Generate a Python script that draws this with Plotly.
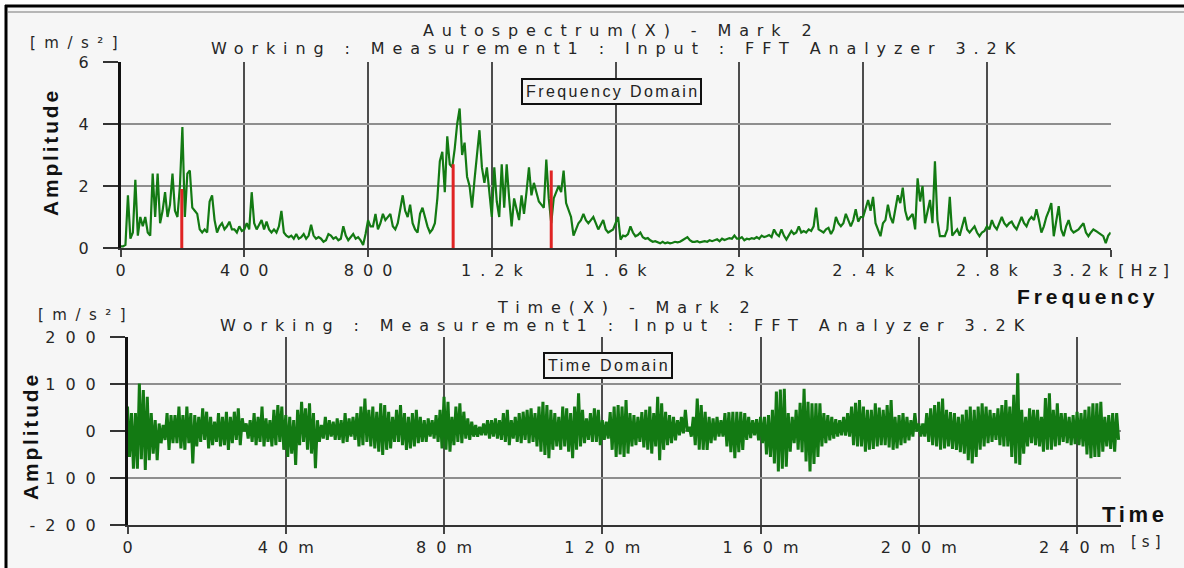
import plotly.graph_objects as go

W, H = 1184, 568

# ---------------- data ----------------
# Autospectrum: frequency grid (Hz) and amplitude [m/s^2]
freq_step = 8
spec_amp = [
    0.05, 0.05, 0.1, 1.7, 0.3, 0.5, 2.2, 0.4, 1.0, 0.7,
    1.0, 0.5, 0.4, 2.4, 1.0, 2.4, 0.8, 1.2, 1.8, 1.0,
    1.4, 2.4, 1.2, 1.0, 2.0, 3.9, 1.0, 2.4, 2.5, 1.3,
    1.2, 1.1, 0.6, 0.5, 0.6, 0.5, 1.5, 1.7, 0.9, 0.5,
    0.7, 0.8, 0.6, 0.7, 0.85, 0.6, 0.6, 0.5, 0.7, 0.55,
    0.6, 0.8, 0.6, 1.8, 0.8, 0.6, 0.75, 0.9, 0.6, 0.85,
    0.6, 0.5, 0.6, 0.5, 0.7, 1.2, 0.5, 0.4, 0.35, 0.4,
    0.3, 0.45, 0.3, 0.35, 0.45, 0.3, 0.4, 0.75, 0.4, 0.3,
    0.35, 0.3, 0.2, 0.25, 0.45, 0.4, 0.3, 0.35, 0.25, 0.3,
    0.7, 0.4, 0.25, 0.35, 0.45, 0.3, 0.35, 0.25, 0.1, 0.45,
    0.9, 0.7, 0.7, 1.1, 0.6, 0.8, 1.1, 0.9, 1.0, 1.1,
    0.7, 0.6, 0.8, 1.2, 1.7, 1.2, 1.0, 1.4, 0.8, 0.6,
    0.5, 1.1, 1.3, 1.0, 0.7, 0.5, 0.6, 0.8, 1.6, 2.8,
    3.1, 1.8, 3.6, 2.7, 2.6, 3.2, 4.0, 4.5, 3.0, 3.4,
    2.3, 2.0, 1.3, 2.2, 3.0, 3.8, 2.6, 2.1, 2.6, 1.8,
    1.0, 2.6, 1.5, 1.0, 2.7, 1.3, 2.7, 1.6, 0.7, 1.6,
    1.2, 0.9, 1.7, 1.1, 1.8, 2.6, 1.7, 2.1, 1.8, 1.5,
    1.4, 1.3, 2.85, 1.6, 0.8, 1.6, 1.8, 2.0, 1.8, 2.5,
    1.45, 1.2, 1.0, 0.4, 0.6, 0.8, 0.9, 1.1, 0.9, 0.8,
    0.9, 1.0, 0.8, 0.6, 0.75, 0.9, 0.6, 0.5, 0.55, 0.6,
    0.8, 1.0, 0.27, 0.4, 0.38, 0.45, 0.7, 0.5, 0.38, 0.42,
    0.5, 0.35, 0.3, 0.32, 0.25, 0.2, 0.22, 0.18, 0.15, 0.2,
    0.15, 0.18, 0.15, 0.17, 0.2, 0.18, 0.2, 0.25, 0.3, 0.35,
    0.25, 0.2, 0.2, 0.22, 0.18, 0.2, 0.22, 0.2, 0.25, 0.22,
    0.25, 0.28, 0.22, 0.3, 0.26, 0.3, 0.32, 0.3, 0.4, 0.3,
    0.3, 0.35, 0.25, 0.3, 0.28, 0.32, 0.3, 0.35, 0.3, 0.4,
    0.35, 0.38, 0.42, 0.35, 0.6, 0.45, 0.38, 0.6, 0.4, 0.27,
    0.4, 0.55, 0.45, 0.5, 0.7, 0.5, 0.55, 0.5, 0.6, 0.55,
    0.7, 1.3, 0.6, 0.55, 0.5, 0.6, 0.65, 0.45, 0.6, 1.0,
    0.8, 0.7, 0.8, 1.1, 0.9, 0.7, 0.9, 1.25, 0.85, 1.0,
    1.0, 1.3, 1.55, 1.2, 1.65, 0.8, 0.6, 0.38, 0.8, 0.9,
    1.4, 1.0, 0.8, 1.2, 1.7, 1.45, 1.95, 1.2, 0.9, 1.0,
    1.1, 0.6, 2.25, 1.5, 2.0, 0.8, 1.2, 1.55, 0.8, 2.8,
    0.9, 0.38, 0.38, 0.38, 0.6, 1.65, 0.4, 0.5, 0.6, 0.4,
    0.7, 1.0, 0.6, 0.5, 0.6, 0.7, 0.5, 0.38, 0.5, 0.55,
    0.7, 0.6, 0.9, 0.7, 0.6, 0.8, 1.0, 0.8, 0.7, 0.8,
    0.85, 0.7, 0.6, 0.8, 1.0, 0.8, 0.7, 0.9, 1.0, 0.9,
    1.25, 0.9, 0.5, 0.7, 1.0, 1.2, 1.45, 0.38, 0.9, 1.35,
    0.6, 0.38, 0.7, 0.9, 0.6, 0.5, 0.55, 0.6, 0.7, 0.8,
    0.5, 0.38, 0.5, 0.6, 0.55, 0.5, 0.45, 0.38, 0.16, 0.4,
    0.5,
]
spec_freq = [i * freq_step for i in range(len(spec_amp))]

# Mark cursors (red lines) on the spectrum
mark_freq = [198, 1075, 1392]
mark_amp = [1.9, 2.7, 2.5]

# Time signal: per-millisecond max / min of the displayed trace [m/s^2]
time_hi = [
    52, 38, 38, 101, 87, 73, 38, 23, 16, 13,
    38, 34, 34, 52, 34, 52, 38, 34, 30, 48,
    41, 30, 20, 38, 30, 41, 30, 41, 48, 27,
    16, 23, 38, 30, 52, 27, 23, 45, 55, 52,
    34, 30, 23, 45, 62, 48, 59, 38, 23, 13,
    30, 23, 20, 27, 23, 38, 27, 30, 38, 52,
    69, 45, 52, 41, 59, 55, 41, 30, 45, 55,
    38, 30, 38, 45, 30, 23, 27, 23, 34, 45,
    73, 62, 30, 52, 59, 41, 27, 20, 13, 9,
    16, 23, 23, 27, 23, 38, 45, 23, 30, 38,
    41, 45, 48, 38, 52, 62, 55, 45, 38, 30,
    52, 48, 38, 52, 80, 45, 27, 38, 48, 45,
    23, 20, 40, 52, 55, 52, 66, 38, 34, 30,
    40, 45, 52, 38, 73, 59, 41, 34, 30, 23,
    30, 45, 9, 30, 69, 55, 41, 30, 27, 30,
    23, 38, 40, 41, 41, 41, 38, 30, 23, 25,
    30, 30, 34, 45, 84, 88, 90, 38, 30, 45,
    60, 90, 62, 59, 59, 59, 38, 34, 30, 25,
    23, 30, 38, 52, 60, 66, 52, 45, 45, 59,
    50, 45, 55, 66, 30, 34, 38, 30, 23, 38,
    16, 16, 38, 48, 55, 62, 69, 45, 40, 38,
    30, 35, 45, 52, 45, 52, 59, 52, 45, 38,
    48, 55, 66, 52, 77, 123, 45, 30, 48, 45,
    45, 30, 70, 80, 45, 59, 38, 38, 30, 34,
    41, 38, 45, 52, 59, 59, 62, 30, 34, 38, 38,
]
time_lo = [
    -55, -80, -80, -60, -83, -62, -48, -62, -26, -19,
    -40, -26, -26, -37, -40, -26, -69, -33, -23, -19,
    -37, -30, -23, -33, -30, -40, -26, -19, -30, -1,
    -16, -23, -30, -23, -33, -23, -33, -30, -23, -40,
    -55, -48, -72, -30, -23, -40, -48, -79, -23, -16,
    -19, -12, -19, -19, -26, -23, -12, -19, -33, -30,
    -23, -33, -37, -44, -51, -40, -37, -23, -23, -30,
    -40, -37, -33, -26, -23, -23, -12, -16, -23, -37,
    -40, -44, -30, -23, -26, -16, -19, -12, -12, -9,
    -9, -16, -12, -16, -19, -23, -30, -16, -23, -26,
    -19, -26, -23, -33, -44, -51, -58, -40, -33, -40,
    -33, -44, -58, -40, -33, -26, -19, -23, -23, -30,
    -19, -16, -40, -55, -50, -55, -48, -33, -30, -23,
    -35, -40, -48, -33, -62, -40, -30, -26, -20, -9,
    -5, -1, -12, -30, -40, -40, -40, -26, -20, -12,
    -12, -33, -45, -58, -45, -40, -19, -15, -9, -20,
    -26, -50, -55, -69, -86, -80, -76, -44, -26, -40,
    -45, -65, -86, -70, -55, -33, -26, -20, -16, -12,
    -9, -10, -12, -30, -33, -33, -44, -40, -38, -33,
    -30, -30, -35, -40, -37, -30, -26, -20, -12, -1,
    -12, -12, -23, -30, -33, -40, -37, -33, -38, -40,
    -45, -48, -62, -69, -55, -40, -33, -26, -23, -19,
    -30, -33, -33, -55, -69, -72, -48, -33, -26, -30,
    -33, -44, -40, -40, -33, -30, -23, -26, -30, -28,
    -30, -33, -50, -58, -55, -55, -44, -33, -38, -44, -19,
]
time_ms = list(range(len(time_hi)))

freq_ticks = [0, 400, 800, 1200, 1600, 2000, 2400, 2800, 3200]
freq_labels = ["0", "400", "800", "1.2k", "1.6k", "2k", "2.4k", "2.8k", "3.2k"]
freq_unit = "[Hz]"
amp_ticks = [0, 2, 4, 6]
time_ticks = [0, 0.04, 0.08, 0.12, 0.16, 0.20, 0.24]
time_labels = ["0", "40m", "80m", "120m", "160m", "200m", "240m"]
acc_ticks = [-200, -100, 0, 100, 200]

# ---------------- helpers ----------------
def px(x):
    return x / W

def py(y):
    return 1 - y / H

def spaced(s, sp):
    if len(s) <= 1:
        return s
    return f'<span style="letter-spacing:{sp}px">{s[:-1]}</span>{s[-1]}'

WIDE = "DejaVu Sans, Verdana, sans-serif"
ARIAL = "Liberation Sans, Arial, sans-serif"
GREEN = "#137a13"
TXT = "#262626"

# time trace built from the max/min pairs
tx, ty = [], []
for t, hi, lo in zip(time_ms, time_hi, time_lo):
    tx += [t / 1000.0, (t + 0.5) / 1000.0]
    ty += [hi, lo]

mx, my = [], []
for f, a in zip(mark_freq, mark_amp):
    mx += [f, f, None]
    my += [0, a, None]

fig = go.Figure()
fig.add_trace(go.Scatter(x=spec_freq, y=spec_amp, mode="lines",
                         line=dict(color=GREEN, width=2.2), xaxis="x", yaxis="y",
                         hoverinfo="skip"))
fig.add_trace(go.Scatter(x=mx, y=my, mode="lines",
                         line=dict(color="#e02424", width=3), xaxis="x", yaxis="y",
                         hoverinfo="skip"))
fig.add_trace(go.Scatter(x=tx, y=ty, mode="lines",
                         line=dict(color=GREEN, width=3.0), xaxis="x2", yaxis="y2",
                         hoverinfo="skip"))

tickfont = dict(family=WIDE, size=16, color=TXT)
common_x = dict(showgrid=True, gridcolor="#4d4d4d", gridwidth=2,
                showline=True, linecolor="#333", linewidth=2,
                ticks="outside", ticklen=7, tickwidth=2, tickcolor="#444",
                tickfont=tickfont, zeroline=False, fixedrange=True,
                automargin=False)
common_y = dict(showgrid=True, gridcolor="#8e8e8e", gridwidth=1.5,
                showline=True, linecolor="#111", linewidth=2.5,
                ticks="outside", ticklen=15, tickwidth=1.5, tickcolor="#333",
                tickfont=tickfont, zeroline=False, fixedrange=True,
                ticklabelstandoff=11, automargin=False)

freq_text = [spaced(s, 9) for s in freq_labels]
freq_text[-1] = spaced(freq_labels[-1], 7) + "&nbsp;&nbsp;" + spaced(freq_unit, 6)

fig.update_layout(
    width=W, height=H, autosize=False,
    margin=dict(l=0, r=0, t=0, b=0, pad=0),
    paper_bgcolor="white", plot_bgcolor="#efefef",
    showlegend=False,
    xaxis=dict(domain=[px(120.5), px(1110.7)], range=[0, 3200], anchor="y",
               tickmode="array", tickvals=freq_ticks, ticktext=freq_text, **common_x),
    yaxis=dict(domain=[py(248), py(62)], range=[0, 6], anchor="x",
               tickmode="array", tickvals=amp_ticks,
               ticktext=[spaced(str(v), 9) for v in amp_ticks], **common_y),
    xaxis2=dict(domain=[px(127.5), px(1121)], range=[0, 0.2511], anchor="y2",
                tickmode="array", tickvals=time_ticks,
                ticktext=[spaced(s, 10) for s in time_labels], **common_x),
    yaxis2=dict(domain=[py(525), py(337)], range=[-200, 200], anchor="x2",
                tickmode="array", tickvals=acc_ticks,
                ticktext=[spaced(str(v), 10) for v in acc_ticks], **common_y),
)

# frame
fig.add_shape(type="rect", xref="paper", yref="paper",
              x0=px(6), x1=1.0, y0=0.0, y1=py(6),
              fillcolor="#f6f6f6", line=dict(width=0), layer="below")
fig.add_shape(type="line", xref="paper", yref="paper",
              x0=px(5), x1=1.0, y0=py(6), y1=py(6),
              line=dict(color="black", width=3))
fig.add_shape(type="line", xref="paper", yref="paper",
              x0=px(8), x1=1.0, y0=py(12), y1=py(12),
              line=dict(color="#777", width=1))
fig.add_shape(type="line", xref="paper", yref="paper",
              x0=px(6), x1=px(6), y0=0.0, y1=py(5),
              line=dict(color="black", width=3))

def ann(text, x, y, size, sp, color=TXT, bold=False, angle=0, box=False, family=WIDE):
    t = spaced(text, sp)
    kw = {}
    if box:
        kw = dict(bordercolor="#111", borderwidth=2, borderpad=3, bgcolor="#f4f4f4")
    fig.add_annotation(text=t, xref="paper", yref="paper", x=px(x), y=py(y),
                       xanchor="center", yanchor="middle", showarrow=False,
                       textangle=angle,
                       font=dict(family=family, size=size, color=color,
                                 weight="bold" if bold else "normal"), **kw)

# top panel texts
ann("Autospectrum(X) - Mark 2", 617, 31, 16, 7.9)
ann("Working : Measurement1 : Input : FFT Analyzer 3.2K", 614, 49, 16, 7.9)
ann("[m/s²]", 74, 43, 15, 8.5)
ann("Amplitude", 51, 154, 21, 2.8, color="#111", bold=True, angle=-90, family=ARIAL)
ann("Frequency Domain", 611, 91.5, 16, 2.4, color="#222", box=True, family=ARIAL)
ann("Frequency", 1086, 296, 21, 3.9, color="#111", bold=True, family=ARIAL)

# bottom panel texts
ann("Time(X) - Mark 2", 623, 307, 16, 7.9)
ann("Working : Measurement1 : Input : FFT Analyzer 3.2K", 622, 325, 16, 7.9)
ann("[m/s²]", 82, 315, 15, 8.5)
ann("Amplitude", 30, 438, 21, 2.8, color="#111", bold=True, angle=-90, family=ARIAL)
ann("Time Domain", 607.5, 365, 16, 2.5, color="#222", box=True, family=ARIAL)
ann("Time", 1133, 514, 22, 3.7, color="#111", bold=True, family=ARIAL)
ann("[s]", 1146, 542, 15, 5)

fig.write_html(
    "out.html",
    config={"displayModeBar": False, "staticPlot": True},
    post_script="document.body.style.margin='0px';document.body.style.padding='0px';"
                "document.documentElement.style.overflow='hidden';",
)
